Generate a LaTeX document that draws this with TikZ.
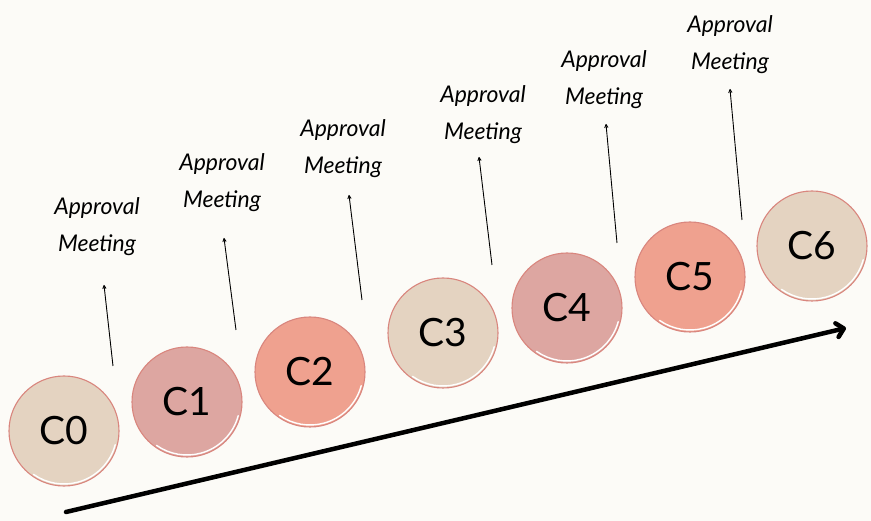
\documentclass[tikz,border=0pt]{standalone}
\usepackage{fontspec}
\setmainfont{Lato}
\usetikzlibrary{arrows.meta}
\definecolor{paper}{HTML}{FCFBF7}
\definecolor{sand}{HTML}{E4D3C1}
\definecolor{rose}{HTML}{DDA6A1}
\definecolor{salmon}{HTML}{EFA18F}
\definecolor{rim}{HTML}{D9867E}
\tikzset{
  stage/.style={circle, minimum size=110pt, inner sep=0pt, draw=rim, line width=1.1pt,
    font=\fontsize{39}{40}\selectfont},
  meetlabel/.style={align=center, font=\itshape\fontsize{23}{37}\selectfont, inner sep=0pt},
  tick/.style={-{To[length=4pt,width=4pt]}, line width=0.9pt, black},
  growth/.style={-{Straight Barb[round,length=7pt,width=14pt]}, line width=4.5pt, line cap=round, black},
}
\newcommand{\gloss}[1]{%
  \draw[white, line width=1.4pt, line cap=round] (#1.center) ++(-15:53pt) arc[start angle=-15, end angle=-125, radius=53pt];}
\begin{document}
\begin{tikzpicture}[x=1pt,y=-1pt]
\fill[paper] (0,0) rectangle (871,521);
\useasboundingbox (0,0) rectangle (871,521);

% milestone circles
\node[stage, fill=sand]   (c0) at (64,431)  {C0};
\node[stage, fill=rose]   (c1) at (187,402) {C1};
\node[stage, fill=salmon] (c2) at (310,372) {C2};
\node[stage, fill=sand]   (c3) at (443,333) {C3};
\node[stage, fill=rose]   (c4) at (567,308) {C4};
\node[stage, fill=salmon] (c5) at (690,277) {C5};
\node[stage, fill=sand]   (c6) at (812,246) {C6};
\foreach \n in {c0,c1,c2,c3,c4,c5,c6} {\gloss{\n}}

% approval meeting labels
\node[meetlabel] (m0) at (97,227) {Approval\\Meeting};
\node[meetlabel] (m1) at (222,183) {Approval\\Meeting};
\node[meetlabel] (m2) at (343,149) {Approval\\Meeting};
\node[meetlabel] (m3) at (483,115) {Approval\\Meeting};
\node[meetlabel] (m4) at (604,80) {Approval\\Meeting};
\node[meetlabel] (m5) at (730,45) {Approval\\Meeting};

% arrows pointing up to each meeting
\coordinate (b0) at (113,366); \coordinate (t0) at (104,285);
\coordinate (b1) at (236,330); \coordinate (t1) at (224,238);
\coordinate (b2) at (362,300); \coordinate (t2) at (349,195);
\coordinate (b3) at (492,265); \coordinate (t3) at (479,157);
\coordinate (b4) at (617,243); \coordinate (t4) at (606,124);
\coordinate (b5) at (742,220); \coordinate (t5) at (730,89);
\foreach \i in {0,...,5} {\draw[tick] (b\i) -- (t\i);}

% overall progression arrow
\coordinate (gs) at (66,512);
\coordinate (ge) at (846,328);
\draw[growth] (gs) -- (ge);
\end{tikzpicture}
\end{document}
